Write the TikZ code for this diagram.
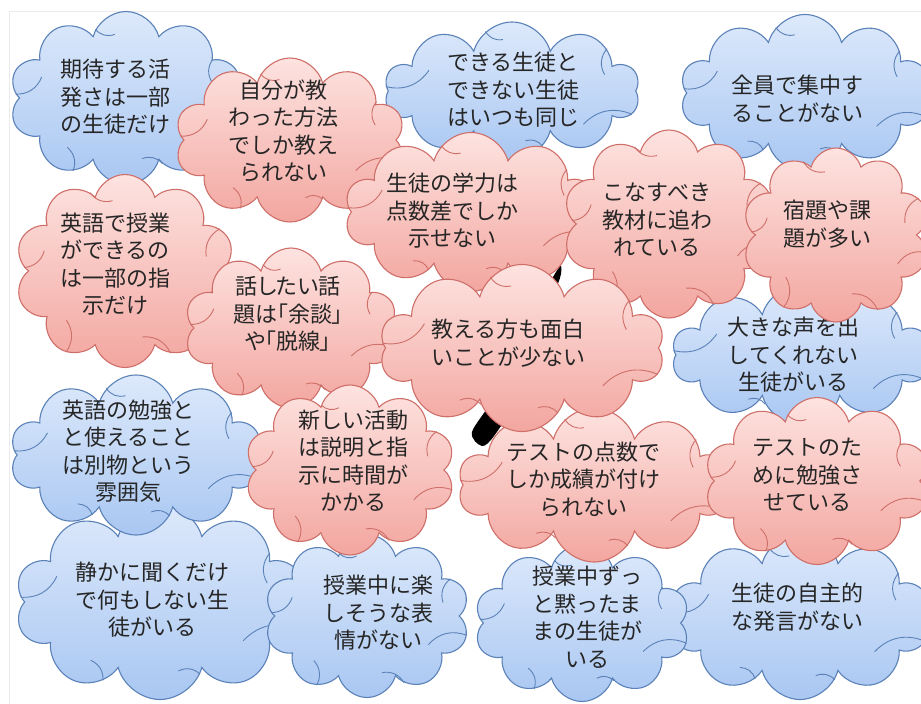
\documentclass[tikz,border=0pt]{standalone}
\usepackage{fontspec}
\newfontfamily\jp{Noto Sans CJK JP}
\newfontfamily\jpp[RawFeature=+palt]{Noto Sans CJK JP}
\usetikzlibrary{shapes.symbols,calc}
\definecolor{bluetop}{HTML}{DDE9FB}
\definecolor{bluebot}{HTML}{A9C7F2}
\definecolor{blueline}{HTML}{5B82B8}
\definecolor{pinktop}{HTML}{FDE3E0}
\definecolor{pinkbot}{HTML}{F3A6A0}
\definecolor{pinkline}{HTML}{CF6F69}
\tikzset{
  cl/.style={cloud, cloud puffs=10, cloud ignores aspect, inner sep=0pt, line width=1.1pt},
  bluecl/.style={cl, draw=blueline, top color=bluetop, bottom color=bluebot},
  pinkcl/.style={cl, draw=pinkline, top color=pinktop, bottom color=pinkbot},
  txt/.style={font=\jp\fontsize{22}{27.5}\selectfont, align=center, text=black!85, inner sep=0pt},
  bluecrease/.style={draw=blueline, line width=0.9pt},
  pinkcrease/.style={draw=pinkline, line width=0.9pt},
}
\newcommand\creases[2]{%
  \foreach \a/\b in {10/24, 100/114, 166/178, 220/234, 285/299, 335/349}{%
    \draw[#2] ($(#1.center)!0.76!(#1.\a)$) to[bend left=35] (#1.\b);}}
\begin{document}
\begin{tikzpicture}[x=1pt,y=-1pt]
\useasboundingbox[fill=white] (0,0) rectangle (921,704);
\draw[black!8, line width=1pt] (9,704) -- (9,11) -- (921,11);
\fill[black] plot[smooth cycle] coordinates {(542,296) (556,272) (561,266) (560,278) (548,308) (515,400) (494,436) (482,446) (472,432) (495,395) (528,318)};
% blue clouds
\node[bluecl, minimum width=233pt, minimum height=173pt] (b1) at (126,98) {};
\creases{b1}{bluecrease}
\node[txt] (t1) at (115,97) {期待する活\\発さは一部\\の生徒だけ};
\node[bluecl, minimum width=255pt, minimum height=138pt] (b2) at (512,91) {};
\creases{b2}{bluecrease}
\node[txt] (t2) at (513,90) {できる生徒と\\できない生徒\\はいつも同じ};
\node[bluecl, minimum width=250pt, minimum height=157pt] (b3) at (805,93) {};
\creases{b3}{bluecrease}
\node[txt] (t3) at (797,99) {全員で集中す\\ることがない};
\node[bluecl, minimum width=258pt, minimum height=140pt] (b4) at (801,355) {};
\creases{b4}{bluecrease}
\node[txt] (t4) at (793,355) {大きな声を出\\してくれない\\生徒がいる};
\node[bluecl, minimum width=290pt, minimum height=195pt] (b6) at (160,602) {};
\creases{b6}{bluecrease}
\node[txt] (t6) at (152,600) {静かに聞くだけ\\で何もしない生\\徒がいる};
\node[bluecl, minimum width=252pt, minimum height=160pt] (b5) at (136,455) {};
\creases{b5}{bluecrease}
\node[txt] (t5) at (128,451) {英語の勉強と\\と使えること\\は別物という\\雰囲気};
\node[bluecl, minimum width=205pt, minimum height=163pt] (b7) at (367,616) {};
\creases{b7}{bluecrease}
\node[txt] (t7) at (378,613) {授業中に楽\\しそうな表\\情がない};
\node[bluecl, minimum width=260pt, minimum height=165pt] (b9) at (800,617) {};
\creases{b9}{bluecrease}
\node[txt] (t9) at (797,607) {生徒の自主的\\な発言がない};
\node[bluecl, minimum width=215pt, minimum height=157pt] (b8) at (582,623) {};
\creases{b8}{bluecrease}
\node[txt] (t8) at (587,617) {授業中ずっ\\と黙ったま\\まの生徒が\\いる};
% pink clouds
\node[pinkcl, minimum width=220pt, minimum height=193pt] (p2) at (125,271) {};
\creases{p2}{pinkcrease}
\node[txt] (s2) at (115,264) {英語で授業\\ができるの\\は一部の指\\示だけ};
\node[pinkcl, minimum width=230pt, minimum height=164pt] (p1) at (290,140) {};
\creases{p1}{pinkcrease}
\node[txt] (s1) at (283,131) {自分が教\\わった方法\\でしか教え\\られない};
\node[pinkcl, minimum width=213pt, minimum height=160pt] (p4) at (291,328) {};
\creases{p4}{pinkcrease}
\node[txt, font=\jpp\fontsize{22}{27.5}\selectfont] (s4) at (288,314) {話したい話\\題は「余談」\\や「脱線」};
\node[pinkcl, minimum width=210pt, minimum height=170pt] (p8) at (350,470) {};
\creases{p8}{pinkcrease}
\node[txt] (s8) at (353,461) {新しい活動\\は説明と指\\示に時間が\\かかる};
\node[pinkcl, minimum width=272pt, minimum height=154pt] (p9) at (594,485) {};
\creases{p9}{pinkcrease}
\node[txt] (s9) at (583,479) {テストの点数で\\しか成績が付け\\られない};
\node[pinkcl, minimum width=253pt, minimum height=159pt] (p3) at (471,212) {};
\creases{p3}{pinkcrease}
\node[txt] (s3) at (452,211) {生徒の学力は\\点数差でしか\\示せない};
\node[pinkcl, minimum width=212pt, minimum height=188pt] (p5) at (669,224) {};
\creases{p5}{pinkcrease}
\node[txt] (s5) at (657,220) {こなすべき\\教材に追わ\\れている};
\node[pinkcl, minimum width=187pt, minimum height=174pt] (p6) at (836,235) {};
\creases{p6}{pinkcrease}
\node[txt] (s6) at (827,224) {宿題や課\\題が多い};
\node[pinkcl, minimum width=225pt, minimum height=167pt] (p10) at (817,481) {};
\creases{p10}{pinkcrease}
\node[txt] (s10) at (807,475) {テストのた\\めに勉強さ\\せている};
\node[pinkcl, minimum width=285pt, minimum height=167pt] (p7) at (522,348) {};
\creases{p7}{pinkcrease}
\node[txt] (s7) at (508,343) {教える方も面白\\いことが少ない};
\end{tikzpicture}
\end{document}
